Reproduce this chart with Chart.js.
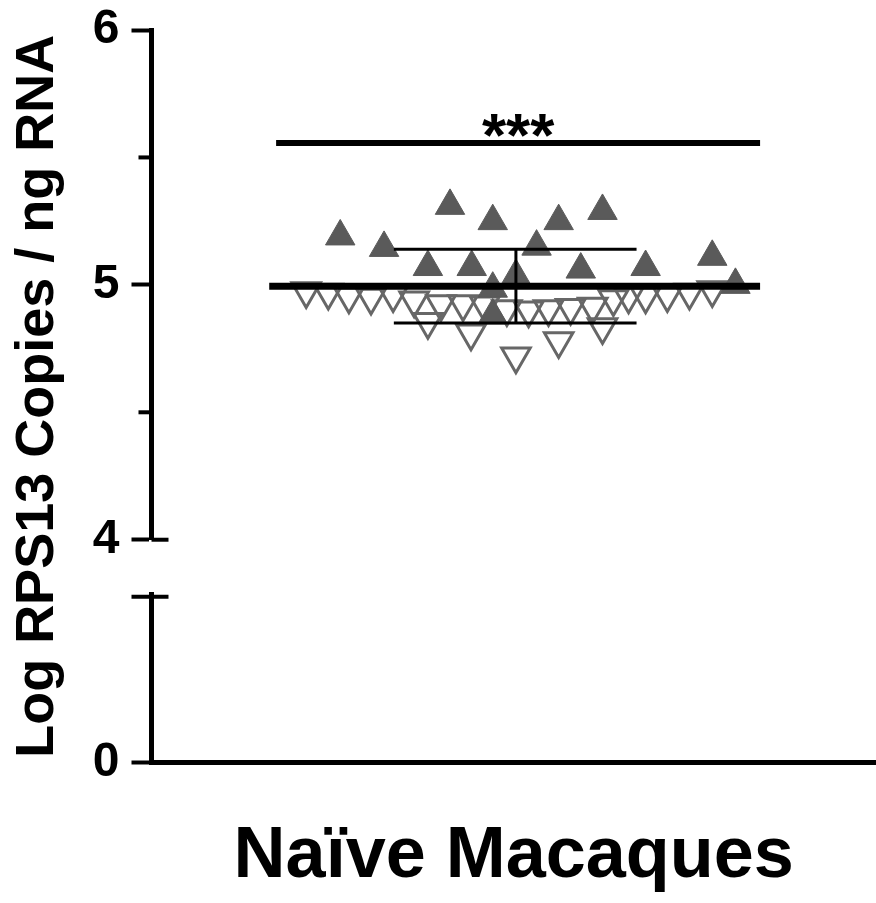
<!DOCTYPE html>
<html lang="en">
<head>
<meta charset="UTF-8">
<title>Log RPS13 Copies / ng RNA - Naïve Macaques</title>
<script src="https://cdn.jsdelivr.net/npm/chart.js"></script>
<style>
  body { margin: 0; padding: 0; background: #fff; }
  #wrap { width: 876px; height: 903px; }
</style>
</head>
<body>
<div id="wrap"><canvas id="chart" width="876" height="903"></canvas></div>
<script>
// horizontal spread of each animal (-1..1 across the plot) and its log value
const filledX = [-0.479, -0.358, -0.176, -0.058, -0.237, -0.116, -0.058, -0.058, 0.006, 0.124, 0.245, 0.063, 0.185, 0.364, 0.548, 0.612];
const filledY = [5.19, 5.145, 5.31, 5.25, 5.07, 5.07, 4.985, 4.88, 5.035, 5.25, 5.29, 5.15, 5.06, 5.07, 5.11, 5.0];

const openX = [-0.573, -0.512, -0.455, -0.394, -0.333, -0.275, -0.237, -0.201, -0.140, -0.118, -0.080, -0.019, 0.006, 0.041, 0.096, 0.124, 0.157, 0.218, 0.245, 0.275, 0.317, 0.364, 0.424, 0.485, 0.548];
const openY = [4.976, 4.97, 4.955, 4.95, 4.96, 4.94, 4.855, 4.925, 4.925, 4.81, 4.92, 4.905, 4.72, 4.90, 4.905, 4.78, 4.91, 4.915, 4.835, 4.945, 4.955, 4.955, 4.96, 4.97, 4.98];

// mean +/- SD and the significance bar
const meanX = [-0.675, 0.680];
const meanY = [4.995, 4.995];
const sdX = [-0.331, 0.339];
const sdHigh = [5.14, 5.14];
const sdLow = [4.85, 4.85];
const sdStemX = [0.006, 0.006];
const sdStemY = [4.85, 5.14];
const sigX = [-0.656, 0.680];
const sigY = [5.557, 5.557];
const sigLabel = "***";

const upperTicks = [4, 5, 6];
const minorTicks = [4.5, 5.5];
const lowerTicks = [0];

const fam = "'Liberation Sans', Arial, sans-serif";
Chart.defaults.font.family = fam;

function pts(xs, ys) {
  return xs.map((x, i) => ({ x: x, y: ys[i] }));
}

function lineSet(xs, ys, w) {
  return {
    data: pts(xs, ys),
    yAxisID: "y",
    showLine: true,
    pointRadius: 0,
    borderColor: "#000",
    borderWidth: w,
    borderCapStyle: "butt",
  };
}

// minor ticks, axis break caps and the *** label
const extras = {
  id: "extras",
  afterDraw(chart) {
    const ctx = chart.ctx;
    const up = chart.scales.y;
    const low = chart.scales.y0;
    const ax = chart.chartArea.left;
    ctx.save();
    ctx.strokeStyle = "#000";
    ctx.lineWidth = 4;
    const seg = (x1, y1, x2, y2) => {
      ctx.beginPath();
      ctx.moveTo(x1, y1);
      ctx.lineTo(x2, y2);
      ctx.stroke();
    };
    minorTicks.forEach(v => {
      const py = up.getPixelForValue(v);
      seg(ax - 13, py, ax, py);
    });
    const pb = up.getPixelForValue(up.min);
    seg(ax, pb, ax + 17, pb);
    seg(ax - 20, low.top + 2, ax + 17, low.top + 2);

    const sx = chart.scales.x.getPixelForValue((sigX[0] + sigX[1]) / 2);
    const sy = up.getPixelForValue(sigY[0]);
    ctx.fillStyle = "#000";
    ctx.font = "bold 62px " + fam;
    ctx.textAlign = "center";
    ctx.textBaseline = "alphabetic";
    ctx.fillText(sigLabel, sx, sy + 13);
    ctx.restore();
  }
};

const tickFont = { size: 48, weight: "bold" };
const axisGrid = { drawOnChartArea: false, drawTicks: true, tickLength: 20, tickWidth: 4, tickColor: "#000", color: "#000" };
const axisBorder = { display: true, width: 5, color: "#000" };
const noOverflow = s => { s.paddingTop = 0; s.paddingBottom = 0; };

new Chart(document.getElementById("chart"), {
  type: "scatter",
  data: {
    datasets: [
      lineSet(sigX, sigY, 6),
      lineSet(meanX, meanY, 7),
      lineSet(sdX, sdHigh, 3),
      lineSet(sdX, sdLow, 3),
      lineSet(sdStemX, sdStemY, 3),
      {
        data: pts(filledX, filledY),
        yAxisID: "y",
        pointStyle: "triangle",
        pointRadius: 17,
        backgroundColor: "#5a5a5a",
        borderColor: "#5a5a5a",
        borderWidth: 1,
      },
      {
        data: pts(openX, openY),
        yAxisID: "y",
        pointStyle: "triangle",
        rotation: 180,
        pointRadius: 16.5,
        backgroundColor: "rgba(255,255,255,0)",
        borderColor: "#676767",
        borderWidth: 3,
      },
    ],
  },
  options: {
    responsive: false,
    animation: false,
    events: [],
    layout: { autoPadding: false, padding: { top: 30, left: 0, right: 0, bottom: 0 } },
    plugins: { legend: { display: false }, tooltip: { enabled: false } },
    scales: {
      x: {
        type: "linear",
        min: -1,
        max: 1,
        ticks: { display: false },
        grid: { display: false, drawTicks: false },
        border: axisBorder,
        title: {
          display: true,
          text: "Naïve Macaques",
          color: "#000",
          font: { size: 72, weight: "bold" },
          padding: { top: 51, bottom: 3 },
        },
      },
      y0: {
        type: "linear",
        position: "left",
        stack: "v",
        stackWeight: 168,
        min: 0,
        max: 1,
        afterBuildTicks: s => { s.ticks = lowerTicks.map(v => ({ value: v })); },
        afterFit: noOverflow,
        ticks: { font: tickFont, color: "#000", padding: 12 },
        grid: axisGrid,
        border: axisBorder,
      },
      yGap: {
        type: "linear",
        position: "left",
        stack: "v",
        stackWeight: 55,
        display: false,
        min: 0,
        max: 1,
      },
      y: {
        type: "linear",
        position: "left",
        stack: "v",
        stackWeight: 510,
        min: 4,
        max: 6,
        afterBuildTicks: s => { s.ticks = upperTicks.map(v => ({ value: v })); },
        afterFit: noOverflow,
        ticks: { font: tickFont, color: "#000", padding: 12 },
        grid: axisGrid,
        border: axisBorder,
      },
      yTitle: {
        type: "linear",
        position: "left",
        weight: 5,
        min: 0,
        max: 1,
        ticks: { display: false },
        grid: { display: false, drawTicks: false },
        border: { display: false },
        title: {
          display: true,
          text: "Log RPS13 Copies / ng RNA",
          color: "#000",
          font: { size: 54, weight: "bold" },
          padding: { top: 6, bottom: 10 },
        },
      },
    },
  },
  plugins: [extras],
});
</script>
</body>
</html>
